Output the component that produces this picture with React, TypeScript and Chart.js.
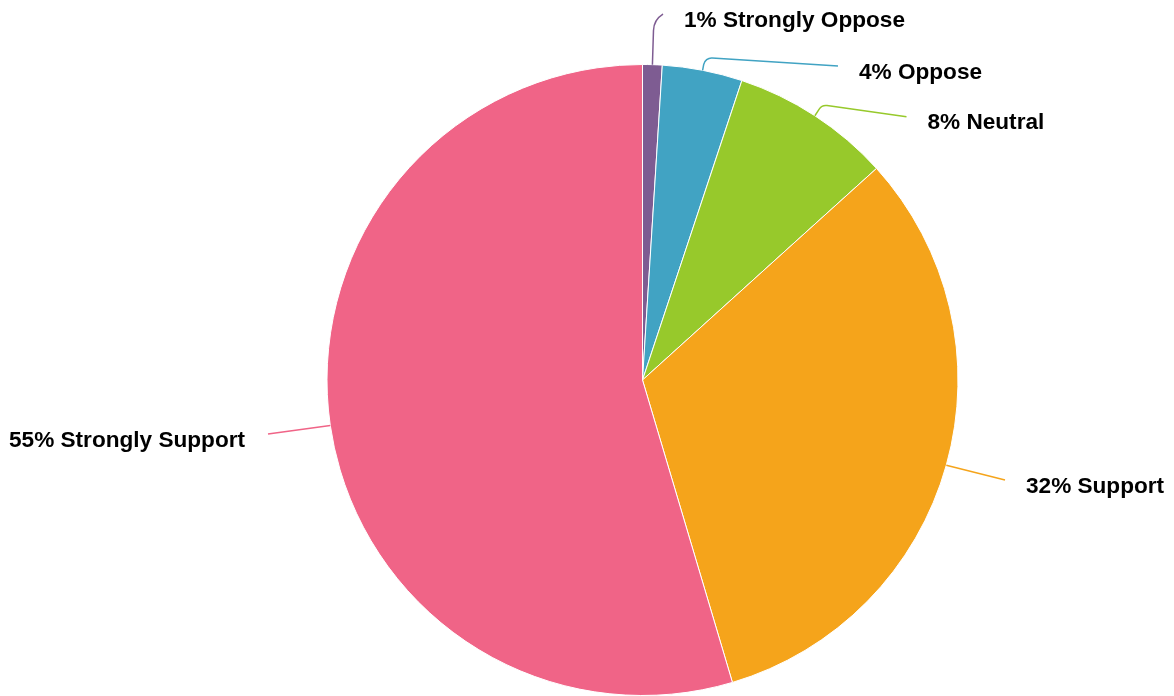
import React, { useEffect, useRef } from "react";
import { Chart, registerables } from "chart.js";

Chart.register(...registerables);

// ---- Data ----
const categories: string[] = ["Strongly Oppose", "Oppose", "Neutral", "Support", "Strongly Support"];
const shares: number[] = [1.0, 4.1, 8.2, 32.1, 54.6];
const sliceColors: string[] = ["#7e5c92", "#41a3c3", "#97c92b", "#f5a41b", "#f06487"];

// ---- Label layout (leader-line geometry, relative to pie centre) ----
const labelElbowExt: number[] = [45, 13, 13, 0, 0];
const labelCornerRadius: number[] = [20, 8, 8, 0, 0];
const labelEndDx: number[] = [20.5, 195.5, 264, 362.5, -374.5];
const labelEndDy: number[] = [-366, -314, -263.3, 100, 54];

const leaderPlugin = {
  id: "leaderLabels",
  afterDatasetsDraw(chart: any) {
    const ctx: CanvasRenderingContext2D = chart.ctx;
    const meta = chart.getDatasetMeta(0);
    const data: number[] = chart.data.datasets[0].data;
    const total = data.reduce((a, b) => a + b, 0);
    ctx.save();
    meta.data.forEach((arc: any, i: number) => {
      const { x, y, startAngle, endAngle, outerRadius } = arc.getProps(
        ["x", "y", "startAngle", "endAngle", "outerRadius"],
        true
      );
      const mid = (startAngle + endAngle) / 2;
      const ax = x + Math.cos(mid) * outerRadius;
      const ay = y + Math.sin(mid) * outerRadius;
      const ex = x + labelEndDx[i];
      const ey = y + labelEndDy[i];
      ctx.beginPath();
      ctx.strokeStyle = sliceColors[i];
      ctx.lineWidth = 1.5;
      ctx.moveTo(ax, ay);
      if (labelElbowExt[i] > 0) {
        const r2 = outerRadius + labelElbowExt[i];
        const bx = x + Math.cos(mid) * r2;
        const by = y + Math.sin(mid) * r2;
        ctx.arcTo(bx, by, ex, ey, labelCornerRadius[i]);
      }
      ctx.lineTo(ex, ey);
      ctx.stroke();

      const pct = Math.round((data[i] / total) * 100);
      const text = `${pct}% ${categories[i]}`;
      ctx.font = "bold 22.6px 'Liberation Sans', Arial, sans-serif";
      ctx.fillStyle = "#000";
      ctx.textBaseline = "alphabetic";
      const right = labelEndDx[i] >= 0;
      ctx.textAlign = right ? "left" : "right";
      ctx.fillText(text, right ? ex + 21 : ex - 23, ey + 12.5);
    });
    ctx.restore();
  },
};

export default function App() {
  const canvasRef = useRef<HTMLCanvasElement | null>(null);

  useEffect(() => {
    if (!canvasRef.current) return;
    const chart = new Chart(canvasRef.current, {
      type: "pie",
      data: {
        labels: categories,
        datasets: [
          {
            data: shares,
            backgroundColor: sliceColors,
            borderColor: "#ffffff",
            borderWidth: 1,
          },
        ],
      },
      options: {
        responsive: false,
        animation: false,
        devicePixelRatio: 1,
        layout: { padding: { left: 300, right: 189, top: 64, bottom: 0 } },
        plugins: {
          legend: { display: false },
          tooltip: { enabled: false },
        },
      },
      plugins: [leaderPlugin],
    });
    return () => chart.destroy();
  }, []);

  return (
    <div style={{ position: "absolute", left: 0, top: 0, width: 1174, height: 696, background: "#fff" }}>
      <canvas ref={canvasRef} width={1174} height={696} />
    </div>
  );
}
